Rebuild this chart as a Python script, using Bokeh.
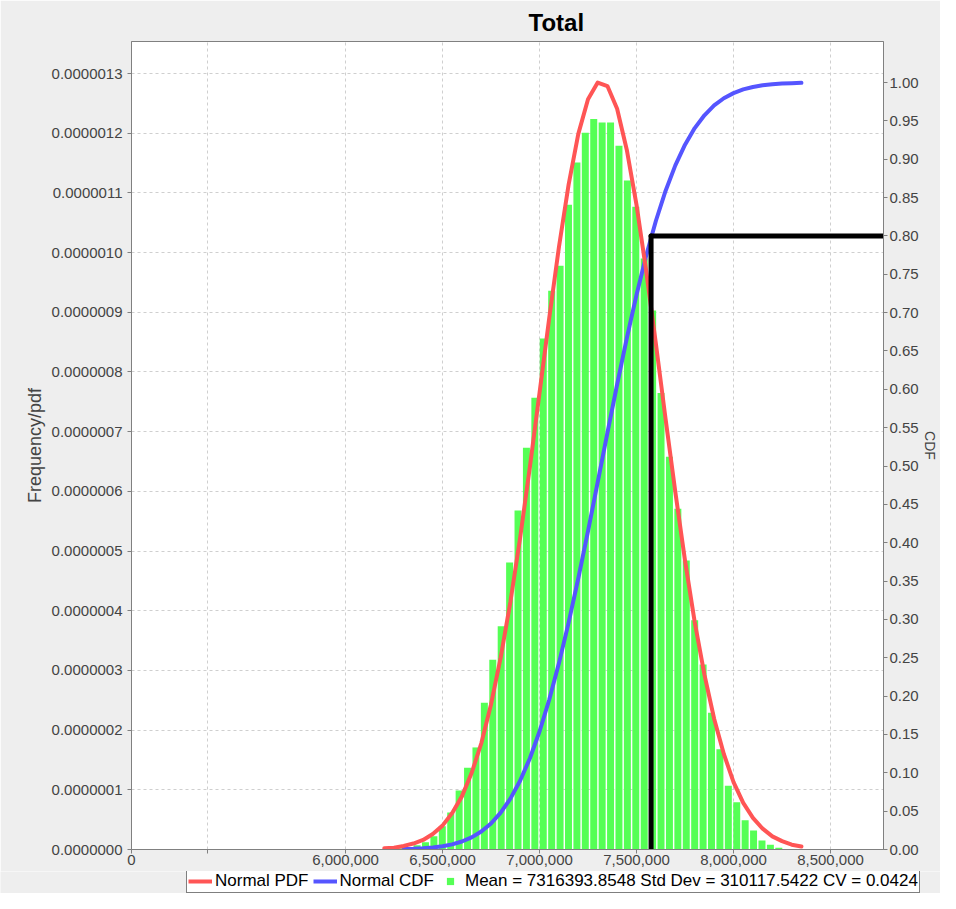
from bokeh.plotting import figure
from bokeh.models import (Range1d, LinearAxis, FixedTicker, PrintfTickFormatter,
                          NumeralTickFormatter, Legend, LegendItem)
from bokeh.embed import file_html
from bokeh.resources import INLINE

# ---------------- data ----------------
TITLE = "Total"
Y_LABEL = "Frequency/pdf"
Y2_LABEL = "CDF"

X_START = 4897000
X_END = 8773000
X_TICKS = [4897000, 5290000, 6000000, 6500000, 7000000, 7500000, 8000000, 8500000]
X_LABEL_OVERRIDES = {4897000: "0", 5290000: ""}

PDF_TOP = 1.3537e-6
PDF_TICKS = [0.0, 1e-7, 2e-7, 3e-7, 4e-7, 5e-7, 6e-7, 7e-7, 8e-7, 9e-7,
             1.0e-6, 1.1e-6, 1.2e-6, 1.3e-6]
CDF_TOP = 1.0535
CDF_TICKS = [0.00, 0.05, 0.10, 0.15, 0.20, 0.25, 0.30, 0.35, 0.40, 0.45, 0.50,
             0.55, 0.60, 0.65, 0.70, 0.75, 0.80, 0.85, 0.90, 0.95, 1.00]

# histogram (density, in units of 1e-7)
HIST_FIRST_EDGE = 6260500
HIST_BIN_WIDTH = 43360
HIST_DENSITY_E7 = [0.02, 0.03, 0.07, 0.12, 0.22, 0.39, 0.62, 0.99, 1.37, 1.71,
                   2.46, 3.18, 3.74, 4.81, 5.68, 6.73, 7.57, 8.56, 9.36, 9.78,
                   10.80, 11.51, 12.01, 12.24, 12.18, 12.18, 11.79, 11.21, 10.77, 9.90,
                   9.03, 7.65, 6.58, 5.71, 4.84, 3.84, 3.10, 2.29, 1.68, 1.07,
                   0.79, 0.49, 0.32, 0.15, 0.08, 0.03]

# Normal PDF curve (units of 1e-7)
PDF_X = list(range(6200000, 8350001, 50000))
PDF_E7 = [0.02, 0.03, 0.06, 0.10, 0.16, 0.26, 0.40, 0.61, 0.89, 1.28,
          1.78, 2.43, 3.22, 4.15, 5.22, 6.40, 7.65, 8.90, 10.09, 11.14,
          11.99, 12.57, 12.85, 12.79, 12.41, 11.72, 10.80, 9.69, 8.47, 7.21,
          5.99, 4.84, 3.81, 2.93, 2.19, 1.60, 1.13, 0.78, 0.53, 0.35,
          0.22, 0.14, 0.08, 0.05]

# Normal CDF curve
CDF_X = list(range(6300000, 8350001, 50000))
CDF_Y = [0.0005, 0.0009, 0.0016, 0.0026, 0.0042, 0.0067, 0.0104, 0.0158, 0.0234, 0.0339,
         0.0480, 0.0663, 0.0897, 0.1187, 0.1538, 0.1952, 0.2427, 0.2958, 0.3537, 0.4152,
         0.4789, 0.5432, 0.6063, 0.6667, 0.7231, 0.7744, 0.8198, 0.8590, 0.8920, 0.9190,
         0.9406, 0.9573, 0.9701, 0.9795, 0.9862, 0.9910, 0.9942, 0.9964, 0.9978, 0.9987,
         0.9992, 0.9996]

# 80th percentile marker
P80_LEVEL = 0.80
P80_X = 7575000

LEGEND_PDF = "Normal PDF"
LEGEND_CDF = "Normal CDF"
LEGEND_HIST = "Mean = 7316393.8548 Std Dev = 310117.5422 CV = 0.0424"

# ---------------- styling ----------------
RED = "#FF5555"
BLUE = "#5555FF"
GREEN = "#55FF55"
FONT = "Liberation Sans"
AXIS_GRAY = "#808080"
TEXT_GRAY = "#444444"
BG_GRAY = "#EEEEEE"

p = figure(width=940, height=871,
           x_range=Range1d(X_START, X_END), y_range=Range1d(0, PDF_TOP),
           output_backend="svg", toolbar_location=None,
           min_border_left=131, min_border_right=50, min_border_top=41, min_border_bottom=22,
           background_fill_color="white", border_fill_color=BG_GRAY,
           outline_line_color=AXIS_GRAY, title=TITLE)

p.title.align = "left"
p.title.offset = 397
p.title.vertical_align = "bottom"
p.title.standoff = 12
p.title.text_font = FONT
p.title.text_font_size = "24px"
p.title.text_font_style = "bold"
p.title.text_color = "black"

p.extra_y_ranges = {"cdf": Range1d(0, CDF_TOP)}
raxis = LinearAxis(y_range_name="cdf")
p.add_layout(raxis, "right")

# x axis
xa = p.xaxis[0]
xa.ticker = FixedTicker(ticks=X_TICKS)
xa.formatter = NumeralTickFormatter(format="0,0")
xa.major_label_overrides = X_LABEL_OVERRIDES
xa.major_label_standoff = 1

# left axis
ya = p.yaxis[0]
ya.ticker = FixedTicker(ticks=PDF_TICKS)
ya.formatter = PrintfTickFormatter(format="%.7f")
ya.axis_label = Y_LABEL
ya.major_label_standoff = 5
ya.axis_label_standoff = 4

# right axis
raxis.ticker = FixedTicker(ticks=CDF_TICKS)
raxis.formatter = PrintfTickFormatter(format="%.2f")
raxis.axis_label = Y2_LABEL
raxis.major_label_standoff = 2

for ax in (xa, ya, raxis):
    ax.axis_line_color = AXIS_GRAY
    ax.major_tick_line_color = AXIS_GRAY
    ax.major_tick_out = 4
    ax.major_tick_in = 0
    ax.minor_tick_line_color = None
    ax.major_label_text_font = FONT
    ax.major_label_text_font_size = "15px"
    ax.major_label_text_color = TEXT_GRAY
    ax.axis_label_text_font = FONT
    ax.axis_label_text_font_size = "18px"
    ax.axis_label_text_font_style = "normal"
    ax.axis_label_text_color = TEXT_GRAY

raxis.axis_label_standoff = 0
raxis.axis_label_text_font_size = "14px"

p.xgrid.ticker = FixedTicker(ticks=X_TICKS)
p.ygrid.ticker = FixedTicker(ticks=PDF_TICKS)
for g in (p.xgrid, p.ygrid):
    g.grid_line_color = "#CFCFCF"
    g.grid_line_dash = "3 3"
    g.grid_line_width = 1

# histogram
centers = [HIST_FIRST_EDGE + (i + 0.5) * HIST_BIN_WIDTH for i in range(len(HIST_DENSITY_E7))]
tops = [h * 1e-7 for h in HIST_DENSITY_E7]
p.vbar(x=centers, top=tops, bottom=0, width=HIST_BIN_WIDTH * 0.83,
       fill_color=GREEN, line_color=None)

# curves
pdf_y = [v * 1e-7 for v in PDF_E7]
p.line(CDF_X, CDF_Y, y_range_name="cdf", line_color=BLUE, line_width=4,
       line_join="round", line_cap="round")
p.line(PDF_X, pdf_y, line_color=RED, line_width=4,
       line_join="round", line_cap="round")

# 80% marker lines
p.line([P80_X, P80_X], [0, P80_LEVEL], y_range_name="cdf", line_color="black",
       line_width=5, line_cap="round")
p.line([P80_X, X_END], [P80_LEVEL, P80_LEVEL], y_range_name="cdf", line_color="black",
       line_width=5, line_cap="round")

# ---------------- legend strip (separate root, full-width frame) ----------------
lf = figure(width=940, height=22, x_range=Range1d(0, 1), y_range=Range1d(0, 1),
            output_backend="svg", toolbar_location=None,
            x_axis_type=None, y_axis_type=None,
            min_border=0, min_border_left=0, min_border_right=0,
            min_border_top=0, min_border_bottom=0,
            background_fill_color=BG_GRAY, border_fill_color=BG_GRAY,
            outline_line_color=None)
# legend-key carriers: same series, lying outside this strip's ranges (not visible)
k_pdf = lf.line(PDF_X, pdf_y, line_color=RED, line_width=4)
k_cdf = lf.line(CDF_X, CDF_Y, line_color=BLUE, line_width=4)
k_hist = lf.scatter(centers, tops, marker="square", fill_color=GREEN, line_color=None)

legend = Legend(items=[LegendItem(label=LEGEND_PDF, renderers=[k_pdf]),
                       LegendItem(label=LEGEND_CDF, renderers=[k_cdf]),
                       LegendItem(label=LEGEND_HIST, renderers=[k_hist])],
                orientation="horizontal", location=(186, 0),
                border_line_color="black", border_line_width=1,
                background_fill_color="white", background_fill_alpha=1,
                padding=1, spacing=4, label_standoff=3, margin=0,
                glyph_width=24, glyph_height=18, label_height=18,
                label_text_font=FONT, label_text_font_size="17px",
                label_text_color="black")
lf.add_layout(legend, "center")

open("out.html", "w").write(file_html([p, lf], INLINE))
